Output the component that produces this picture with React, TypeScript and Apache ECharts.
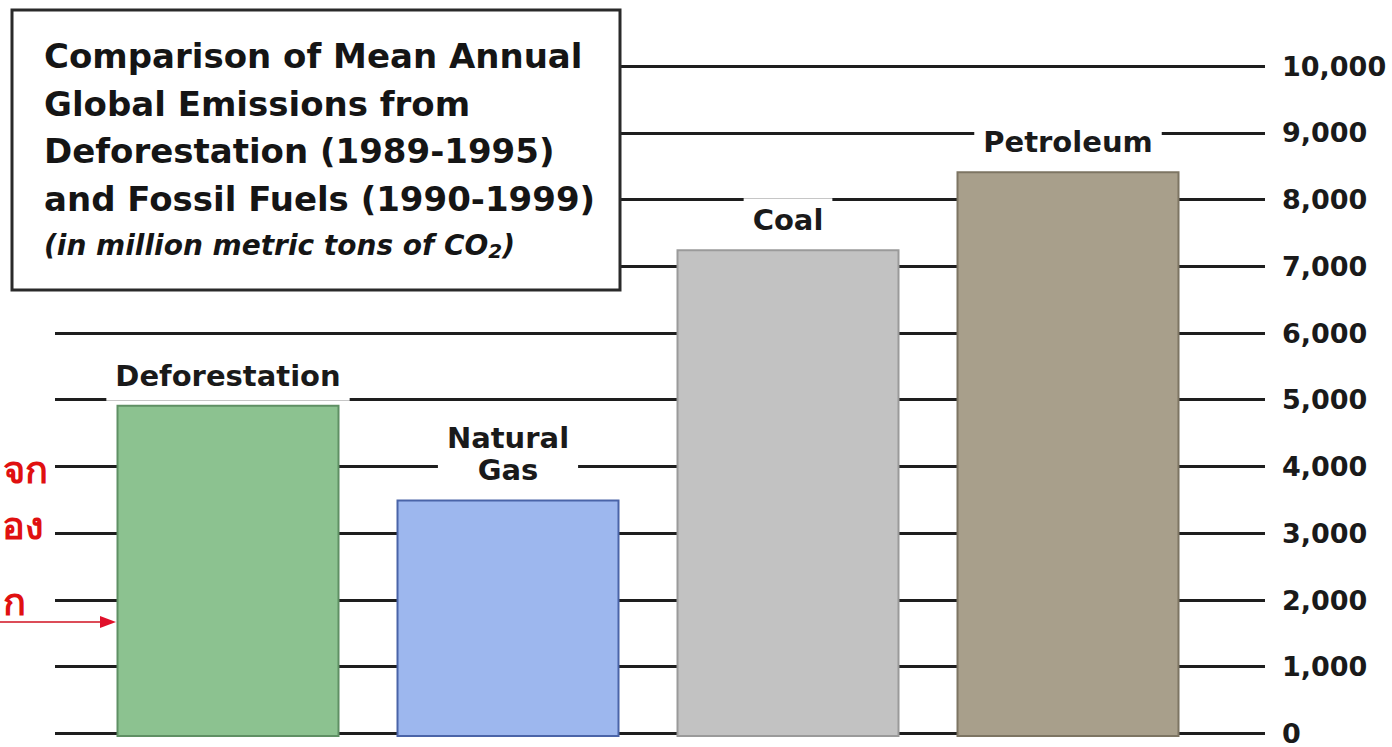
import React, { useEffect, useRef } from "react";
import * as echarts from "echarts";

const categories = ["Deforestation", "Natural Gas", "Coal", "Petroleum"];
const barLabels = ["Deforestation", "Natural\nGas", "Coal", "Petroleum"];
const values = [4950, 3540, 7270, 8430];
const yTicks = [0, 1000, 2000, 3000, 4000, 5000, 6000, 7000, 8000, 9000, 10000];
const titleLines = [
  "Comparison of Mean Annual",
  "Global Emissions from",
  "Deforestation (1989-1995)",
  "and Fossil Fuels (1990-1999)",
];
const subtitle = "(in million metric tons of CO{sub|2})";
const thaiFragments = ["จก", "อง", "ก"];

const fillColors = ["#8cc290", "#9db7ee", "#c2c2c2", "#a89f8b"];
const borderColors = ["#5f9064", "#4a64a8", "#9a9a9a", "#7d7563"];

const FONT = "DejaVu Sans";

export default function App() {
  const ref = useRef<HTMLDivElement>(null);
  useEffect(() => {
    if (!ref.current) return;
    const chart = echarts.init(ref.current, null, { renderer: "svg" });
    const yMin = yTicks[0];
    const yMax = yTicks[yTicks.length - 1];
    const option: any = {
      animation: false,
      backgroundColor: "#ffffff",
      grid: [
        { left: 88, right: 184, top: 66, bottom: 10 },
        { left: 55, right: 127, top: 66, bottom: 10 },
      ],
      xAxis: [
        {
          type: "category",
          gridIndex: 0,
          data: categories,
          axisLine: { show: false },
          axisTick: { show: false },
          axisLabel: { show: false },
        },
        {
          type: "value",
          gridIndex: 1,
          min: 0,
          max: 1,
          show: false,
        },
      ],
      yAxis: [
        {
          type: "value",
          gridIndex: 0,
          min: yMin,
          max: yMax,
          show: false,
          splitLine: { show: false },
        },
        {
          type: "value",
          gridIndex: 1,
          position: "right",
          min: yMin,
          max: yMax,
          interval: 1000,
          axisLine: { show: false },
          axisTick: { show: false },
          axisLabel: {
            margin: 17,
            color: "#1a1a1a",
            fontFamily: FONT,
            fontWeight: "bold",
            fontSize: 27,
            formatter: (v: number) => v.toLocaleString("en-US"),
          },
          splitLine: { show: true, lineStyle: { color: "#1e1e1e", width: 3 } },
        },
      ],
      graphic: [
        {
          type: "rect",
          z: 100,
          shape: { x: 12, y: 10, width: 608, height: 280 },
          style: { fill: "#ffffff", stroke: "#2a2a2a", lineWidth: 3 },
        },
        ...titleLines.map((t, i) => ({
          type: "text",
          z: 101,
          x: 44,
          y: 56 + i * 47.5,
          style: {
            text: t,
            fill: "#151515",
            font: `bold 34px "${FONT}"`,
            textVerticalAlign: "middle",
          },
        })),
        {
          type: "text",
          z: 101,
          x: 44,
          y: 245,
          style: {
            text: subtitle,
            fill: "#151515",
            fontFamily: FONT,
            fontWeight: "bold",
            fontStyle: "italic",
            fontSize: 28,
            verticalAlign: "middle",
            rich: {
              sub: {
                fontFamily: FONT,
                fontWeight: "bold",
                fontStyle: "italic",
                fontSize: 20,
                padding: [12, 0, 0, 0],
              },
            },
          },
        },
        ...thaiFragments.map((t, i) => ({
          type: "text",
          z: 50,
          x: [48, 44, 26][i],
          y: [470, 526, 602][i],
          style: {
            text: t,
            fill: "#e01010",
            font: `bold 38px serif`,
            textAlign: "right",
            textVerticalAlign: "middle",
          },
        })),
        {
          type: "line",
          z: 50,
          shape: { x1: 0, y1: 622, x2: 104, y2: 622 },
          style: { stroke: "#d01020", lineWidth: 1.5 },
        },
        {
          type: "polygon",
          z: 50,
          shape: { points: [[100, 616], [116, 622], [100, 628]] },
          style: { fill: "#e0102a" },
        },
      ],
      series: [
        {
          type: "bar",
          xAxisIndex: 0,
          yAxisIndex: 0,
          barWidth: 223,
          z: 10,
          data: values.map((v, i) => ({
            value: v,
            itemStyle: {
              color: fillColors[i],
              borderColor: borderColors[i],
              borderWidth: 2,
            },
            label: {
              show: true,
              position: "top",
              distance: 4,
              formatter: barLabels[i],
              backgroundColor: "#ffffff",
              padding: [6, 9, 9, 9],
              color: "#1a1a1a",
              fontFamily: FONT,
              fontWeight: "bold",
              fontSize: 29,
              lineHeight: 32,
              align: "center",
            },
          })),
        },
        {
          type: "line",
          xAxisIndex: 1,
          yAxisIndex: 1,
          data: [],
          silent: true,
        },
      ],
    };
    chart.setOption(option);
    return () => chart.dispose();
  }, []);
  return (
    <div
      ref={ref}
      style={{ position: "fixed", left: 0, top: 0, width: 1392, height: 747 }}
    />
  );
}
